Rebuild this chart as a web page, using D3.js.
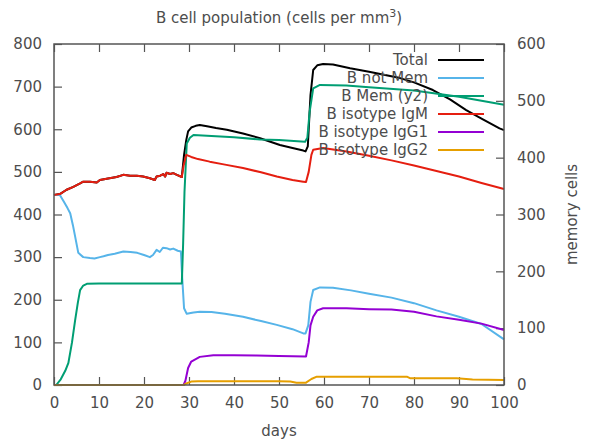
<!DOCTYPE html>
<html>
<head>
<meta charset="utf-8">
<script src="https://cdn.jsdelivr.net/npm/d3@7"></script>
<style>
  body { margin: 0; background: #fff; }
  svg text { font-family: "DejaVu Sans", sans-serif; fill: #4d4d4d; }
</style>
</head>
<body>
<script>

// x ticks / y ticks
var xTicks = [0, 10, 20, 30, 40, 50, 60, 70, 80, 90, 100];
var yTicks = [0, 100, 200, 300, 400, 500, 600, 700, 800];
var y2Ticks = [0, 100, 200, 300, 400, 500, 600];

var seriesNames = ["Total", "B not Mem", "B Mem (y2)", "B isotype IgM", "B isotype IgG1", "B isotype IgG2"];
var seriesColors = ["#000000", "#56b4e9", "#009e73", "#e51e10", "#9400d3", "#e69f00"];

// IgM before day 28 (Total is the same there)
var earlyIgM = [[0,446],[1.3,448],[2.8,458],[4.3,465],[5.8,473],[6.5,477],[8,477],[9.5,475],[10.2,481],
    [11.7,484],[13.9,488],[15.4,493],[16.9,491],[18.4,491],[19.8,489],[21.3,485],[22.4,481],[22.8,489],
    [23.6,491],[24.3,495],[24.7,489],[25,498],[25.8,495],[26.5,497],[27.3,493],[28.4,488]];

var total = earlyIgM.concat([[28.9,540],[29.4,575],[29.8,595],[30.5,604],[31.5,608],[32.4,610],[34,607],
    [36,603],[38.4,599],[42,590],[45.8,579],[50.2,563],[53,556],[55.4,550],[55.9,548],[56.4,560],[57,680],
    [57.6,739],[58.5,750],[59.8,753],[62,752],[65.8,743],[70,735],[76.9,720],[80,710],[84.2,692],[88,670],
    [91.6,645],[95,625],[99,602],[100,598]]);

var bNotMem = [[0,446],[1.3,446],[2.2,430],[3,415],[3.6,403],[4.2,375],[4.7,348],[5.4,310],[6.5,300],[8,298],
    [9,297],[10.2,300],[11,302],[12,305],[13.5,308],[15.4,313],[17,312],[18.5,310],[20,305],[21.3,300],[22,305],
    [22.8,317],[23.5,312],[24.2,322],[25,321],[25.8,318],[26.5,320],[27.5,315],[28.2,313],[28.5,250],[28.9,180],
    [29.5,167],[31,170],[32.4,172],[35,171],[38,167],[42,160],[46,150],[49.5,141],[53,131],[55.4,121],[55.9,121],
    [56.5,140],[57,195],[57.6,223],[59.1,229],[62,228],[66,222],[70,214],[75,205],[80,192],[85,175],[90,160],
    [95,143],[100,107]];

// memory cells, right axis
var bMem = [[0.5,0],[1.5,10],[2.5,25],[3.2,39],[4,75],[4.7,114],[5.3,145],[5.8,167],[6.5,175],[7.3,178],
    [10,178.5],[28.4,178.5],[28.7,250],[29,340],[29.5,425],[30.2,435],[31,440],[35,438],[40,436],[45.8,432],
    [50,431],[55.8,428],[56.3,435],[56.8,480],[57.6,522],[59.1,528],[65,527],[70,524],[80,518],[90,507],[100,493]];

var igM = earlyIgM.concat([[28.8,515],[29.4,540],[30.5,535],[32,530],[34.6,524],[38,517],[42,509],[46,499],
    [49.5,489],[53,481],[55.4,477],[56,476],[56.6,500],[57.2,540],[57.6,552],[59.8,556],[65,548],[70,538],
    [75,527],[80,515],[85,502],[90,489],[95,474],[100,460]]);

var igG1 = [[0,0],[28.8,0],[29.2,10],[29.8,40],[30.5,55],[32.4,66],[35.4,70],[40,70],[45,69],[50,68],[56,67],
    [56.6,100],[57,140],[57.6,160],[58.5,175],[59.8,180],[65,180],[70,178],[75,177],[80,172],[85,161],[90,153],
    [95,144],[100,129]];

var igG2 = [[0,0],[28.8,0],[29.5,4],[30.5,8],[32,9],[40,9],[50,9],[52.5,8],[53.9,5.5],[56,5.5],[57.2,14],
    [58.4,19.5],[70,19.5],[78.4,19.5],[79.1,16],[89.5,16],[93,13],[100,12]];

var allSeries = [total, bNotMem, bMem, igM, igG1, igG2];
var onY2 = [false, false, true, false, false, false];

var w = 596;
var h = 446;

var margin = { top: 44, right: 92, bottom: 61, left: 54 };
var width = w - margin.left - margin.right;
var height = h - margin.top - margin.bottom;

var x = d3.scaleLinear().domain([0, 100]).range([0, width]);
var y = d3.scaleLinear().domain([0, 800]).range([height, 0]);
var y2 = d3.scaleLinear().domain([0, 600]).range([height, 0]);

var svg = d3.select("body").append("svg")
    .attr("width", w)
    .attr("height", h);

var chart = svg.append("g")
    .attr("transform", "translate(" + margin.left + "," + margin.top + ")");

var tickLen = 8;
var axisColor = "#555";

// axes: ticks point inward, labels outside
var xAxis = d3.axisBottom(x).tickValues(xTicks).tickSizeInner(-tickLen).tickSizeOuter(0).tickPadding(12);
var xTop = d3.axisTop(x).tickValues(xTicks).tickSizeInner(-tickLen).tickSizeOuter(0).tickFormat("");
var yAxis = d3.axisLeft(y).tickValues(yTicks).tickSizeInner(-tickLen).tickSizeOuter(0).tickPadding(12);
var y2Axis = d3.axisRight(y2).tickValues(y2Ticks).tickSizeInner(-tickLen).tickSizeOuter(0).tickPadding(13);

function styleAxis(g) {
    g.select(".domain").remove();
    g.selectAll("line").attr("stroke", axisColor).attr("stroke-width", 1.2);
    g.selectAll("text").style("font-size", "15px").attr("fill", "#4d4d4d");
}

chart.append("g").attr("transform", "translate(0," + height + ")").call(xAxis).call(styleAxis);
chart.append("g").call(xTop).call(styleAxis);
chart.append("g").call(yAxis).call(styleAxis);
chart.append("g").attr("transform", "translate(" + width + ",0)").call(y2Axis).call(styleAxis);

// lines
allSeries.forEach(function(data, i) {
    var ys = onY2[i] ? y2 : y;
    var line = d3.line()
        .x(function(d) { return x(d[0]); })
        .y(function(d) { return ys(d[1]); });
    chart.append("path")
        .datum(data)
        .attr("fill", "none")
        .attr("stroke", seriesColors[i])
        .attr("stroke-width", 2)
        .attr("stroke-linejoin", "round")
        .attr("d", line);
});

// border
chart.append("rect")
    .attr("width", width)
    .attr("height", height)
    .attr("fill", "none")
    .attr("stroke", axisColor)
    .attr("stroke-width", 1.5);

// legend
var legend = chart.append("g").attr("transform", "translate(0,0)");
seriesNames.forEach(function(name, i) {
    var ly = 16 + i * 18;
    legend.append("text")
        .attr("x", 374)
        .attr("y", ly)
        .attr("dy", "0.35em")
        .attr("text-anchor", "end")
        .style("font-size", "15px")
        .text(name);
    legend.append("line")
        .attr("x1", 384).attr("x2", 430)
        .attr("y1", ly).attr("y2", ly)
        .attr("stroke", seriesColors[i])
        .attr("stroke-width", 2);
});

// title
var title = svg.append("text")
    .attr("x", margin.left + width / 2)
    .attr("y", 23)
    .attr("text-anchor", "middle")
    .style("font-size", "15px");
title.append("tspan").text("B cell population (cells per mm");
title.append("tspan").attr("dy", -6).style("font-size", "11px").text("3");
title.append("tspan").attr("dy", 6).text(")");

// axis labels
svg.append("text")
    .attr("x", margin.left + width / 2)
    .attr("y", 436)
    .attr("text-anchor", "middle")
    .style("font-size", "15px")
    .text("days");

svg.append("text")
    .attr("transform", "translate(577," + (margin.top + height / 2) + ") rotate(-90)")
    .attr("text-anchor", "middle")
    .style("font-size", "15px")
    .text("memory cells");

</script>
</body>
</html>
